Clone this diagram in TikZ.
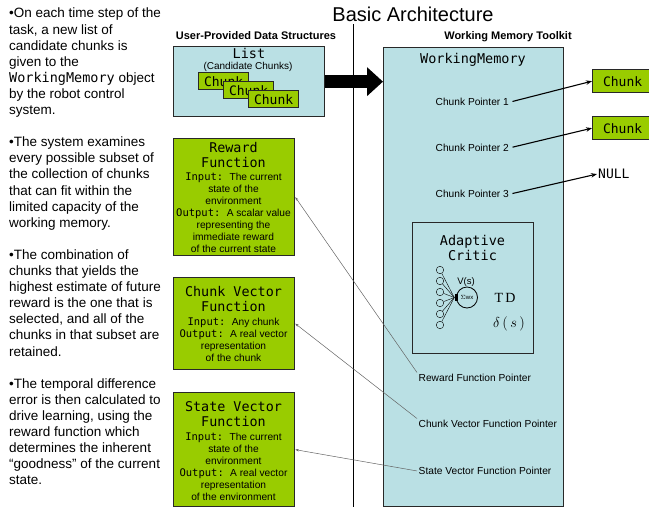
\documentclass[tikz,border=0pt]{standalone}
\usepackage{fontspec}
\setmainfont{Liberation Sans}
\setmonofont{DejaVu Sans Mono}
\newfontfamily\seriffont{Liberation Serif}
\usetikzlibrary{arrows.meta,calc}
\definecolor{lblue}{RGB}{186,224,228}
\definecolor{lgreen}{RGB}{153,204,0}
\definecolor{bord}{RGB}{40,40,40}
\definecolor{gline}{RGB}{100,100,100}
\newcommand\monoB[1]{{\fontsize{10.5}{12.1}\selectfont\ttfamily #1}}
\begin{document}
\begin{tikzpicture}[x=1pt,y=-1pt,
  bluebox/.style={draw=bord, fill=lblue, line width=1.3pt, inner sep=0pt, anchor=north west},
  greenbox/.style={draw=bord, fill=lgreen, line width=1.3pt, inner sep=0pt, anchor=north west},
  lchunk/.style={greenbox, minimum width=50pt, minimum height=17pt, font=\fontsize{13}{15}\selectfont\ttfamily},
  rchunk/.style={greenbox, minimum width=60pt, minimum height=23pt, font=\fontsize{13}{15}\selectfont\ttfamily},
  head/.style={anchor=north, inner sep=0pt, align=center, font=\fontsize{13.4}{15}\selectfont\ttfamily},
  body/.style={anchor=north, inner sep=0pt, align=center, font=\fontsize{10.2}{12.1}\selectfont},
  ptrtext/.style={anchor=base west, inner sep=1.5pt, font=\fontsize{10.2}{12}\selectfont},
  secthead/.style={anchor=base, inner sep=0pt, font=\fontsize{11}{13}\selectfont\bfseries},
  blackptr/.style={line width=1.1pt, shorten <=2pt, -{Stealth[length=6pt,width=4.5pt]}},
  grayptr/.style={draw=gline, line width=0.5pt, -{Stealth[length=3.5pt,width=2.5pt]}},
  small/.style={circle, draw, line width=0.4pt, minimum size=7.5pt, inner sep=0pt}
]
\useasboundingbox (0,0) rectangle (649,507);

% left column text
\node[anchor=north west, inner sep=0pt, align=left, font=\fontsize{13.5}{16.1}\selectfont] (para) at (9,8) {%
•On each time step of the\\
task, a new list of\\
candidate chunks is\\
given to the\\
\texttt{WorkingMemory} object\\
by the robot control\\
system.\\
~\\
•The system examines\\
every possible subset of\\
the collection of chunks\\
that can fit within the\\
limited capacity of the\\
working memory.\\
~\\
•The combination of\\
chunks that yields the\\
highest estimate of future\\
reward is the one that is\\
selected, and all of the\\
chunks in that subset are\\
retained.\\
~\\
•The temporal difference\\
error is then calculated to\\
drive learning, using the\\
reward function which\\
determines the inherent\\
“goodness” of the current\\
state.};

% title and separator
\node[anchor=base, inner sep=0pt, font=\fontsize{20}{24}\selectfont] (title) at (413,21) {Basic Architecture};
\coordinate (vtop) at (353,24);
\coordinate (vbot) at (353,507);
\draw[line width=1pt] (vtop) -- (vbot);
\node[secthead] (uh) at (256,39) {User-Provided Data Structures};
\node[secthead] (wh) at (508,39) {Working Memory Toolkit};

% List box
\node[bluebox, minimum width=151pt, minimum height=70pt] (list) at (173,46) {};
\node[anchor=base, inner sep=0pt, font=\fontsize{13.5}{15}\selectfont\ttfamily] (listt) at (249,58.9) {List};
\node[anchor=base, inner sep=0pt, font=\fontsize{10}{12}\selectfont] (listc) at (248,69.6) {(Candidate Chunks)};
\node[lchunk] (c1) at (198,72) {Chunk};
\node[lchunk] (c2) at (223,81) {Chunk};
\node[lchunk] (c3) at (248,90) {Chunk};

% Working memory box
\node[bluebox, minimum width=180pt, minimum height=459pt] (wm) at (383,47) {};
\node[anchor=base, inner sep=0pt, font=\fontsize{13.5}{15}\selectfont\ttfamily] (wmt) at (473,63.9) {WorkingMemory};

% big arrow
\draw[line width=13pt, -{Triangle[length=16pt,width=28pt]}] (list.east) -- (wm.west |- list.east);

% chunk pointers
\node[ptrtext] (cp1) at (434,105.6) {Chunk Pointer 1};
\node[ptrtext] (cp2) at (434,151.3) {Chunk Pointer 2};
\node[ptrtext] (cp3) at (434,197.6) {Chunk Pointer 3};
\node[rchunk] (r1) at (592,69) {Chunk};
\node[rchunk] (r2) at (592,116) {Chunk};
\node[anchor=base west, inner sep=1pt, font=\fontsize{13}{15}\selectfont\ttfamily] (null) at (597,178.7) {NULL};
\draw[blackptr] (cp1.east) -- (r1.west);
\draw[blackptr] (cp2.east) -- (r2.west);
\draw[blackptr] (cp3.east) -- (null.west);

% Adaptive critic
\node[draw=bord, line width=1.3pt, minimum width=121pt, minimum height=131pt, anchor=north west, inner sep=0pt] (ac) at (412,222) {};
\node[anchor=north, inner sep=0pt, align=center, font=\fontsize{13.5}{15}\selectfont\ttfamily] (act) at (472.5,234.6) {Adaptive\\Critic};
\node[small] (n1) at (440,270) {};
\node[small] (n2) at (440,281) {};
\node[small] (n3) at (440,292) {};
\node[small] (n4) at (440,303) {};
\node[small] (n5) at (440,314) {};
\node[small] (n6) at (440,325) {};
\node[circle, draw, line width=0.8pt, minimum size=21pt, inner sep=0pt, font=\fontsize{6}{6}\selectfont] (sum) at (467,297.5) {$\Sigma$wx};
\node[fill=black, minimum width=3pt, minimum height=7pt, inner sep=0pt] (jn) at (456,297.5) {};
\foreach \i in {1,...,6} \draw[line width=0.4pt] (n\i) -- (jn.west);
\node[anchor=base, inner sep=0pt, font=\fontsize{9.5}{10}\selectfont] (vs) at (466,284.5) {V(s)};
\node[anchor=base, inner sep=0pt, font=\fontsize{14}{16}\seriffont] (td) at (505,302.5) {T\,D};
\node[anchor=base, inner sep=0pt, font=\fontsize{15}{17}\seriffont] (ds) at (509,327) {$\delta\,(\,s\,)$};

% function pointers
\node[ptrtext] (rfp) at (417,381.6) {Reward Function Pointer};
\node[ptrtext] (cvp) at (417,427.6) {Chunk Vector Function Pointer};
\node[ptrtext] (svp) at (417,474.6) {State Vector Function Pointer};

% function boxes
\node[greenbox, minimum width=121pt, minimum height=117pt] (rf) at (173,138) {};
\node[head] (rfh) at (233.5,141.9) {Reward\\Function};
\node[body] (rfb) at (233.5,172.3) {\monoB{Input:~}The current\\state of the\\environment\\\monoB{Output:~}A scalar value\\representing the\\immediate reward\\of the current state};

\node[greenbox, minimum width=121pt, minimum height=92pt] (cv) at (173,277) {};
\node[head] (cvh) at (233.5,285.9) {Chunk Vector\\Function};
\node[body] (cvb) at (233.5,317.3) {\monoB{Input:~}Any chunk\\\monoB{Output:~}A real vector\\representation\\of the chunk};

\node[greenbox, minimum width=121pt, minimum height=114pt] (sv) at (173,392) {};
\node[head] (svh) at (233.5,400.9) {State Vector\\Function};
\node[body] (svb) at (233.5,432.3) {\monoB{Input:~}The current\\state of the\\environment\\\monoB{Output:~}A real vector\\representation\\of the environment};

\draw[grayptr] (rfp.north west) -- (rf.east);
\draw[grayptr] (cvp.north west) -- (cv.east);
\draw[grayptr] (svp.west) -- (sv.east);
\end{tikzpicture}
\end{document}
